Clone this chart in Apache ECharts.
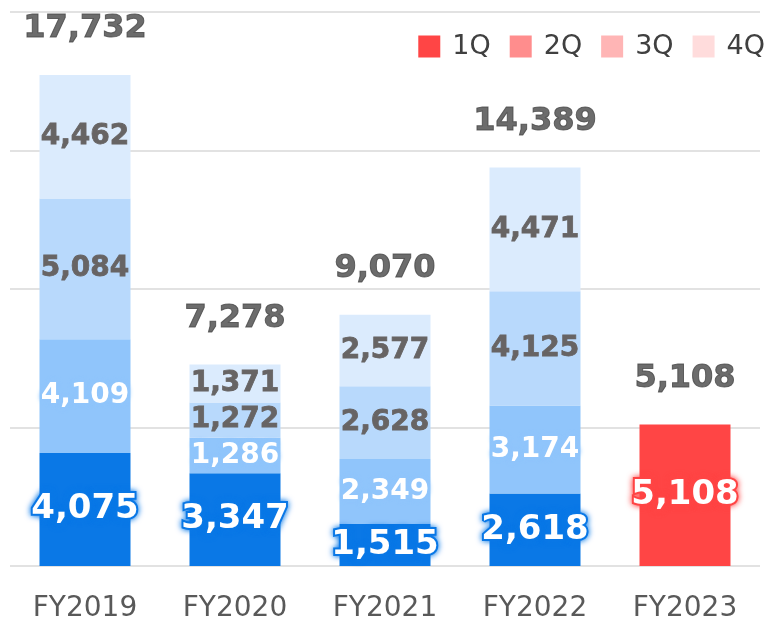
<!DOCTYPE html>
<html lang="en">
<head>
    <meta charset="UTF-8">
    <title>Quarterly stacked bars</title>
    <script src="https://cdn.jsdelivr.net/npm/echarts@6/dist/echarts.min.js"></script>
    <style>
        html, body { margin: 0; padding: 0; background: #fff; }
        #main { width: 774px; height: 623px; }
    </style>
</head>
<body>
<div id="main"></div>
<script type="text/javascript">
    var categories = ['FY2019', 'FY2020', 'FY2021', 'FY2022', 'FY2023'];
    var q1 = [4075, 3347, 1515, 2618, 5108];
    var q2 = [4109, 1286, 2349, 3174, null];
    var q3 = [5084, 1272, 2628, 4125, null];
    var q4 = [4462, 1371, 2577, 4471, null];
    var totals = [17732, 7278, 9070, 14389, 5108];

    var FONT = '"DejaVu Sans", Verdana, sans-serif';
    var blue = ['#0a78e6', '#90c5fb', '#b8d9fc', '#dbebfd'];
    var red = ['#ff4545', '#ff8d8d', '#ffb5b5', '#ffdcdc'];
    var fmt = function (v) { return Number(v).toLocaleString('en-US'); };

    // 1Q is blue for past years, red for the current one
    var q1Data = q1.map(function (v, i) {
        var last = i === categories.length - 1;
        var c = last ? red[0] : blue[0];
        return {
            value: v,
            itemStyle: { color: c },
            label: { textBorderColor: c, textShadowColor: c }
        };
    });
    var quarters = [q2, q3, q4];

    var series = [{
        name: '1Q',
        type: 'bar',
        stack: 'fy',
        barWidth: 91,
        itemStyle: { color: red[0] },
        label: {
            show: true,
            position: 'inside',
            color: '#fff',
            fontFamily: FONT,
            fontWeight: 'bold',
            fontSize: 34,
            textBorderWidth: 4,
            textShadowBlur: 6,
            formatter: function (p) { return fmt(p.value); }
        },
        data: q1Data
    }];

    quarters.forEach(function (arr, k) {
        var isQ2 = k === 0;
        var grey = '#676464';
        series.push({
            name: (k + 2) + 'Q',
            type: 'bar',
            stack: 'fy',
            barWidth: 91,
            itemStyle: { color: red[k + 1] },
            label: {
                show: true,
                position: 'inside',
                color: isQ2 ? '#fff' : grey,
                fontFamily: FONT,
                fontWeight: 'bold',
                fontSize: 28,
                textBorderColor: isQ2 ? blue[1] : grey,
                textBorderWidth: isQ2 ? 3 : 0.8,
                textShadowColor: isQ2 ? blue[1] : 'transparent',
                textShadowBlur: isQ2 ? 5 : 0,
                formatter: function (p) { return fmt(p.value); }
            },
            data: arr.map(function (v) {
                return v == null ? null : { value: v, itemStyle: { color: blue[k + 1] } };
            })
        });
    });

    // totals above each bar
    series.push({
        name: 'total',
        type: 'scatter',
        symbolSize: 0,
        itemStyle: { color: 'transparent' },
        label: {
            show: true,
            position: 'top',
            distance: 30,
            color: '#474747',
            fontFamily: FONT,
            fontWeight: 'bold',
            fontSize: 32,
            textBorderColor: '#474747',
            textBorderWidth: 1,
            formatter: function (p) { return fmt(p.value); }
        },
        data: totals
    });

    var myChart = echarts.init(document.getElementById('main'));
    myChart.setOption({
        animation: false,
        legend: {
            data: ['1Q', '2Q', '3Q', '4Q'],
            right: 4,
            top: 28,
            icon: 'rect',
            itemWidth: 22,
            itemHeight: 22,
            itemGap: 19,
            textStyle: {
                fontFamily: FONT,
                fontSize: 27,
                color: '#404040',
                padding: [0, 0, 0, 7]
            }
        },
        grid: {
            left: 10,
            right: 14,
            top: 12,
            bottom: 57
        },
        xAxis: {
            type: 'category',
            data: categories,
            axisLine: { show: false },
            axisTick: { show: false },
            axisLabel: {
                color: '#595959',
                fontFamily: FONT,
                fontSize: 28,
                margin: 29
            }
        },
        yAxis: {
            type: 'value',
            min: 0,
            max: 20000,
            interval: 5000,
            axisLabel: { show: false },
            axisLine: { show: false },
            axisTick: { show: false },
            splitLine: {
                show: true,
                lineStyle: { color: '#e2e2e2', width: 2 }
            }
        },
        series: series
    });
</script>
</body>
</html>
